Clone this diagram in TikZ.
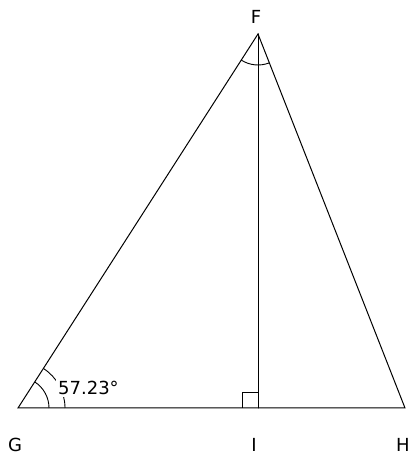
\documentclass[tikz,border=0pt]{standalone}
\usepackage{fontspec}
\setmainfont{DejaVu Sans}
\begin{document}
\begin{tikzpicture}[x=1pt,y=1pt,
  seg/.style={line width=1pt, line cap=round},
  angmark/.style={line width=0.9pt},
  lbl/.style={font=\fontsize{18}{20}\selectfont, inner sep=0pt}]
\useasboundingbox[fill=white] (0,0) rectangle (410,455);
\coordinate (G) at (18,47);
\coordinate (I) at (258,47);
\coordinate (F) at (258,421);
\coordinate (H) at (405,47);
% angle marks at G
\draw[angmark] ([shift={(31,0)}]G) arc[start angle=0, end angle=57.23, radius=31];
\draw[angmark] ([shift={(47,0)}]G) arc[start angle=0, end angle=57.23, radius=47];
\node[lbl, fill=white, inner sep=2pt, anchor=west] (ang) at (56,67) {57.23°};
% angle mark at F
\draw[angmark] ([shift={(237.23:31)}]F) arc[start angle=237.23, end angle=291.46, radius=31];
% right angle at I
\draw[angmark] ([shift={(-16,0)}]I) -- ++(0,16) -- ++(16,0);
% triangle
\draw[seg] (G) -- (H) -- (F) -- cycle;
\draw[seg] (F) -- (I);
% labels
\node[lbl] (lF) at (256,438) {F};
\node[lbl] (lG) at (15,10) {G};
\node[lbl] (lI) at (254,10) {I};
\node[lbl] (lH) at (403,10) {H};
\end{tikzpicture}
\end{document}
